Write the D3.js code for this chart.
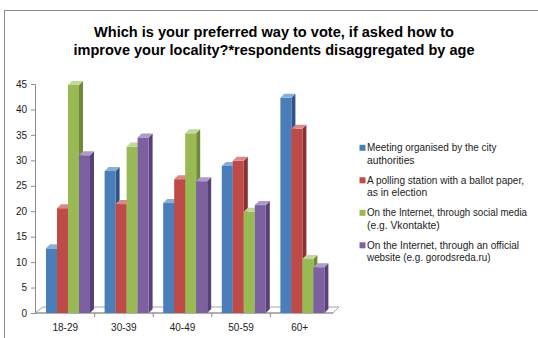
<!DOCTYPE html>
<html><head><meta charset="utf-8">
<script src="https://cdn.jsdelivr.net/npm/d3@7"></script>
<style>body{margin:0;background:#fff}svg{display:block}</style>
</head><body>
<svg id="c" width="538" height="338"></svg>
<script>
const categories = ["18-29", "30-39", "40-49", "50-59", "60+"];
const seriesNames = [
  ["Meeting organised by the city", "authorities"],
  ["A polling station with a ballot paper,", "as in election"],
  ["On the Internet, through social media", "(e.g. Vkontakte)"],
  ["On the Internet, through an official", "website (e.g. gorodsreda.ru)"]
];
const meeting = [12.7, 27.9, 21.6, 28.9, 42.3];
const pollingStation = [20.6, 21.4, 26.3, 29.9, 36.2];
const socialMedia = [44.8, 32.7, 35.3, 19.9, 10.6];
const officialSite = [31.0, 34.5, 25.9, 21.2, 9.0];
const yTicks = [0, 5, 10, 15, 20, 25, 30, 35, 40, 45];
const titleLines = ["Which is your preferred way to vote, if asked how to",
                    "improve your locality?*respondents disaggregated by age"];

const series = [meeting, pollingStation, socialMedia, officialSite];
const colors = [
  {front: "#4A7EBB", side: "#2F5485", top: "#8AAEDA"},
  {front: "#BE4B48", side: "#8A3230", top: "#D98A88"},
  {front: "#98B954", side: "#6E8A38", top: "#C2D89A"},
  {front: "#7D60A0", side: "#574178", top: "#AE9BC8"}
];
const FONT = "'Liberation Sans', Arial, sans-serif";

const svg = d3.select("#c");
// outer frame
svg.append("rect").attr("x", 4.5).attr("y", 10.5).attr("width", 560).attr("height", 360)
  .attr("fill", "#fff").attr("stroke", "#8c8c8c").attr("stroke-width", 1);

function fit(sel, target) {
  const n = sel.node();
  const w = n.getComputedTextLength();
  if (Math.abs(w - target) > 2) sel.attr("textLength", target).attr("lengthAdjust", "spacingAndGlyphs");
}

// title
const tW = [360, 401];
titleLines.forEach((t, i) => {
  const s = svg.append("text").attr("x", 274).attr("y", 37 + i * 18)
    .attr("text-anchor", "middle").attr("font-family", FONT)
    .attr("font-weight", "bold").attr("font-size", 15).attr("fill", "#000").text(t);
  fit(s, tW[i]);
});

const y0 = 313;
const y = d3.scaleLinear().domain([0, 45]).range([y0, 84]);
const x = d3.scaleBand().domain(categories).range([36, 36 + 5 * 58.6]).paddingInner(0).paddingOuter(0);
const xi = d3.scaleBand().domain(d3.range(4)).range([10, 54]);
const dx = 4, dy = -4;

// floor
const fx0 = 35, fx1 = 333;
svg.append("path")
  .attr("d", `M${fx0},${y0}L${fx1},${y0}L${fx1 + 6},${y0 - 6}L${fx0 + 8},${y0 - 6}Z`)
  .attr("fill", "#fff").attr("stroke", "#a6a6a6").attr("stroke-width", 1);

// y axis
const yAxis = svg.append("g").attr("transform", "translate(35,0)")
  .call(d3.axisLeft(y).tickValues(yTicks).tickSize(4).tickPadding(4));
yAxis.select(".domain").attr("stroke", "#8c8c8c");
yAxis.selectAll(".tick line").attr("stroke", "#8c8c8c");
yAxis.selectAll("text").attr("font-family", FONT).attr("font-size", 10).attr("fill", "#222");

// x axis
const xAxisG = svg.append("g").attr("transform", `translate(0,${y0})`);
xAxisG.append("line").attr("x1", fx0).attr("x2", fx1).attr("stroke", "#8c8c8c");
xAxisG.selectAll("line.t").data(categories.slice(1)).join("line").attr("class", "t")
  .attr("x1", d => x(d)).attr("x2", d => x(d)).attr("y1", 0).attr("y2", 4).attr("stroke", "#8c8c8c");
xAxisG.selectAll("text").data(categories).join("text")
  .attr("x", d => x(d) + x.bandwidth() / 2).attr("y", 18)
  .attr("text-anchor", "middle").attr("font-family", FONT).attr("font-size", 10).attr("fill", "#222")
  .text(d => d);

// bars
const bars = svg.append("g");
categories.forEach((cat, ci) => {
  series.forEach((vals, si) => {
    const bx = x(cat) + xi(si), w = xi.bandwidth(), ty = y(vals[ci]);
    const c = colors[si];
    const g = bars.append("g");
    g.append("path").attr("d", `M${bx + w},${ty}L${bx + w + dx},${ty + dy}L${bx + w + dx},${y0 + dy}L${bx + w},${y0}Z`).attr("fill", c.side);
    g.append("rect").attr("x", bx).attr("y", ty).attr("width", w).attr("height", y0 - ty).attr("fill", c.front);
    g.append("path").attr("d", `M${bx},${ty}L${bx + w},${ty}L${bx + w + dx},${ty + dy}L${bx + dx},${ty + dy}Z`).attr("fill", c.top);
  });
});

// legend
const lw = [[129.5, 44], [157, 52], [160, 65], [152, 123.5]];
const leg = svg.append("g");
seriesNames.forEach((lines, i) => {
  const cy = 147.8 + i * 32.5;
  leg.append("rect").attr("x", 359.5).attr("y", cy - 3).attr("width", 6).attr("height", 6).attr("fill", colors[i].front);
  lines.forEach((t, j) => {
    const s = leg.append("text").attr("x", 367).attr("y", cy + 3.6 + j * 12.3)
      .attr("font-family", FONT).attr("font-size", 10.3).attr("fill", "#222").text(t);
    if (j === 0 || i === 3) fit(s, lw[i][j]);
  });
});
</script>
</body></html>
